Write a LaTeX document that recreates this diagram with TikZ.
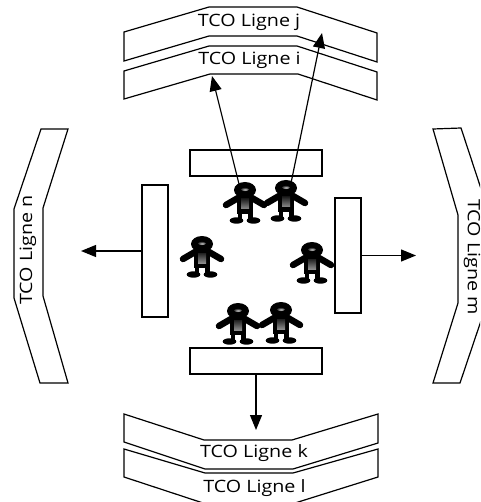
\documentclass[tikz,border=0pt]{standalone}
\usepackage{fontspec}
\setmainfont[FakeStretch=1.16]{Open Sans}
\usetikzlibrary{arrows.meta}
\tikzset{
  band/.style={draw=black,line width=1.2pt,line join=miter,fill=none},
  box/.style={draw=black,line width=1.2pt,fill=white,inner sep=0pt,outer sep=0pt},
  conn/.style={draw=black,line width=1.2pt,-{Triangle[length=15pt,width=12pt]}},
  tco/.style={font=\fontsize{17}{17}\selectfont,inner sep=0pt,text=black},
  limb/.style={line width=6.5pt,line cap=round,line join=round,draw=black},
  pics/person/.style={code={
    \draw[limb] (-19,15) -- (-7,8) -- (7,8) -- (19,15);
    \fill[black] (-8,7) rectangle (8,24);
    \fill[black] (-7.5,22) rectangle (-2.7,31);
    \fill[black] (2.7,22) rectangle (7.5,31);
    \fill[black] (-8.5,30.5) ellipse (6.8pt and 3.2pt);
    \fill[black] (8.5,30.5) ellipse (6.8pt and 3.2pt);
    \fill[black] (0,0) ellipse (11pt and 8pt);
    \shade[top color=gray!25!black,bottom color=gray!90] (-4,9) rectangle (4,19);
    \shade[inner color=gray!35,outer color=gray!40!black] (0,-0.5) ellipse (4pt and 1.6pt);
  }}
}
\begin{document}
\begin{tikzpicture}[x=1pt,y=-1pt]
\useasboundingbox (0,0) rectangle (480,502);
\clip (0,0) rectangle (480,502);
% bands
\draw[band] (124,32) -- (209,7) -- (297,7) -- (377,33) -- (377,62) -- (297,36) -- (209,36) -- (124,61) -- cycle;
\draw[band] (124,71) -- (209,46) -- (297,46) -- (377,72) -- (377,100) -- (298,74) -- (210,74) -- (124,99) -- cycle;
\draw[band] (124,414) -- (204,440) -- (292,440) -- (378,414) -- (378,443) -- (293,469) -- (205,469) -- (124,442) -- cycle;
\draw[band] (124,449) -- (205,473) -- (293,473) -- (378,449) -- (378,477) -- (295,503) -- (203,503) -- (124,477) -- cycle;
\draw[band] (41,129) -- (68,129) -- (43,208) -- (43,296) -- (68,383) -- (40,383) -- (14,298) -- (14,209) -- cycle;
\draw[band] (433,129) -- (461,128) -- (488,210) -- (488,300) -- (460,383) -- (433,383) -- (458,303) -- (458,215) -- cycle;
% labels
\node[tco] (tj) at (249,22) {TCO Ligne j};
\node[tco] (ti) at (249.5,60) {TCO Ligne i};
\node[tco] (tk) at (254,453) {TCO Ligne k};
\node[tco] (tl) at (254.5,488) {TCO Ligne l};
\node[tco,rotate=90] (tn) at (28,250) {TCO Ligne n};
\node[tco,rotate=-90] (tm) at (472,257) {TCO Ligne m};
% boxes
\node[box,minimum width=132pt,minimum height=26pt] (rt) at (256,163) {};
\node[box,minimum width=132pt,minimum height=26pt] (rb) at (256,361) {};
\node[box,minimum width=26pt,minimum height=132pt] (rl) at (155,251) {};
\node[box,minimum width=26pt,minimum height=115pt] (rr) at (348,255.5) {};
% free ends
\coordinate (ai) at (212,76);
\coordinate (aj) at (322,33);
\coordinate (ak) at (256,430);
\coordinate (an) at (81,251);
\coordinate (am) at (416,255.5);
\coordinate (p1) at (239,184);
\coordinate (p2) at (291,183);
% people
\pic at (245,190) {person};
\pic at (286,188) {person};
\pic at (202,244) {person};
\pic at (312,250) {person};
\pic at (238,311) {person};
\pic at (281,310) {person};
% connectors
\draw[conn] (p1) -- (ai);
\draw[conn] (p2) -- (aj);
\draw[conn] (rb.south) -- (ak);
\draw[conn] (rl.west) -- (an);
\draw[conn] (rr.east) -- (am);
\end{tikzpicture}
\end{document}
